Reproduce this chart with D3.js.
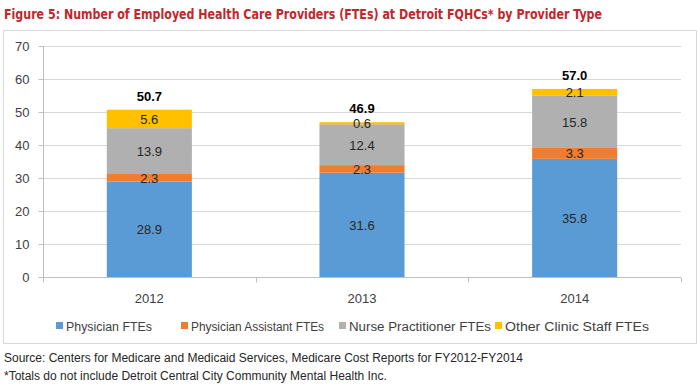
<!DOCTYPE html>
<html><head><meta charset="utf-8">
<script src="https://cdn.jsdelivr.net/npm/d3@7"></script>
<style>body{margin:0;background:#fff}svg{display:block}</style>
</head><body>
<svg id="c" width="700" height="389"></svg>
<script>
const years = ["2012","2013","2014"];
const seriesNames = ["Physician FTEs","Physician Assistant FTEs","Nurse Practitioner FTEs","Other Clinic Staff FTEs"];
const physician = [28.9, 31.6, 35.8];
const physicianAssistant = [2.3, 2.3, 3.3];
const nursePractitioner = [13.9, 12.4, 15.8];
const otherStaff = [5.6, 0.6, 2.1];
const totals = ["50.7","46.9","57.0"];
const yTicks = [0,10,20,30,40,50,60,70];
const colors = ["#5b9bd5","#ed7d31","#b0b0b0","#ffc000"];

const svg = d3.select("#c");
const font = "'Liberation Sans', Arial, sans-serif";

svg.append("text").attr("x",4).attr("y",19)
  .attr("font-family","'DejaVu Sans Condensed', 'Liberation Sans', sans-serif")
  .attr("font-weight","bold").attr("font-size",14).attr("fill","#c1272d")
  .attr("textLength",598).attr("lengthAdjust","spacingAndGlyphs")
  .text("Figure 5: Number of Employed Health Care Providers (FTEs) at Detroit FQHCs* by Provider Type");

svg.append("rect").attr("x",3.5).attr("y",30.5).attr("width",693).attr("height",313)
  .attr("fill","none").attr("stroke","#d9d9d9");

const x = d3.scaleBand().domain(years).range([43,681]).padding(0);
const y = d3.scaleLinear().domain([0,70]).range([277,46]);

// gridlines
svg.append("g").selectAll("line").data(yTicks.filter(d=>d>0)).join("line")
  .attr("x1",43).attr("x2",681).attr("y1",d=>Math.round(y(d))+0.5).attr("y2",d=>Math.round(y(d))+0.5)
  .attr("stroke","#d9d9d9");

// y axis
const ya = svg.append("g").attr("transform","translate(43.5,0)")
  .call(d3.axisLeft(y).tickValues(yTicks).tickSize(5).tickPadding(9));
ya.select(".domain").attr("stroke","#bfbfbf").attr("d","M-0,46V277");
ya.selectAll(".tick line").attr("stroke","#bfbfbf");
ya.selectAll(".tick text").attr("font-family",font).attr("font-size",13).attr("fill","#404040");

// stacked data
const table = years.map((yr,i)=>({year:yr, s0:physician[i], s1:physicianAssistant[i], s2:nursePractitioner[i], s3:otherStaff[i]}));
const stack = d3.stack().keys(["s0","s1","s2","s3"])(table);
const bw = x.bandwidth()*0.4;

const layers = svg.append("g").selectAll("g").data(stack).join("g").attr("fill",(d,i)=>colors[i]);
layers.selectAll("rect").data(d=>d).join("rect")
  .attr("x",d=>x(d.data.year)+x.bandwidth()/2-bw/2)
  .attr("width",bw)
  .attr("y",d=>y(d[1]))
  .attr("height",d=>y(d[0])-y(d[1]));

layers.selectAll("text").data(d=>d).join("text")
  .attr("x",d=>x(d.data.year)+x.bandwidth()/2)
  .attr("y",d=>(y(d[0])+y(d[1]))/2+5)
  .attr("text-anchor","middle").attr("font-family",font).attr("font-size",13).attr("fill","#262626")
  .text(d=>(d[1]-d[0]).toFixed(1));

// x axis
const xa = svg.append("g").attr("transform","translate(0,277.5)");
xa.append("line").attr("x1",43).attr("x2",681).attr("stroke","#bfbfbf");
xa.selectAll("line.t").data([43,...years.slice(1).map(d=>x(d)),681]).join("line").attr("class","t")
  .attr("x1",d=>Math.round(d)+0.5).attr("x2",d=>Math.round(d)+0.5).attr("y1",0).attr("y2",5).attr("stroke","#bfbfbf");
xa.selectAll("text").data(years).join("text")
  .attr("x",d=>x(d)+x.bandwidth()/2).attr("y",25)
  .attr("text-anchor","middle").attr("font-family",font).attr("font-size",13).attr("fill","#404040")
  .text(d=>d);

// totals
svg.append("g").selectAll("text").data(years).join("text")
  .attr("x",d=>x(d)+x.bandwidth()/2)
  .attr("y",(d,i)=>y(physician[i]+physicianAssistant[i]+nursePractitioner[i]+otherStaff[i])-9)
  .attr("text-anchor","middle").attr("font-family",font).attr("font-weight","bold").attr("font-size",13).attr("fill","#000")
  .text((d,i)=>totals[i]);

// legend
const legX = [56,181,339,495];
const legW = [86,133,142,144];
const leg = svg.append("g").selectAll("g").data(seriesNames).join("g")
  .attr("transform",(d,i)=>`translate(${legX[i]},326)`);
leg.append("rect").attr("x",0).attr("y",-4).attr("width",7).attr("height",7).attr("fill",(d,i)=>colors[i]);
leg.append("text").attr("x",10).attr("y",4.5).attr("font-family",font).attr("font-size",12.5).attr("fill","#404040")
  .attr("textLength",(d,i)=>legW[i]).attr("lengthAdjust","spacingAndGlyphs").text(d=>d);

// footer
svg.append("text").attr("x",4).attr("y",362).attr("font-family",font).attr("font-size",12).attr("fill","#262626")
  .text("Source: Centers for Medicare and Medicaid Services, Medicare Cost Reports for FY2012-FY2014");
svg.append("text").attr("x",4).attr("y",380).attr("font-family",font).attr("font-size",12).attr("fill","#262626")
  .text("*Totals do not include Detroit Central City Community Mental Health Inc.");
</script>
</body></html>
